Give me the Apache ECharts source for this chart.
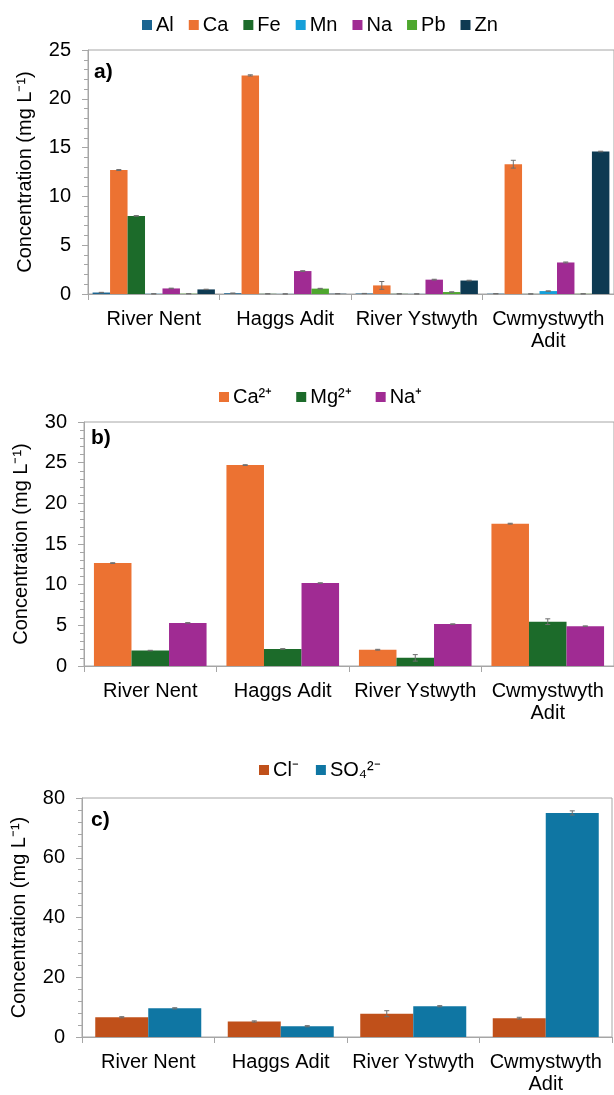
<!DOCTYPE html>
<html>
<head>
<meta charset="utf-8">
<script src="https://cdn.jsdelivr.net/npm/echarts@6/dist/echarts.min.js"></script>
<style>
html,body{margin:0;padding:0;background:#fff;}
#chart{width:614px;height:1095px;}
</style>
</head>
<body>
<div id="chart"></div>
<script>
// ---------- data ----------
const categories = ['River Nent', 'Haggs Adit', 'River Ystwyth', 'Cwmystwyth\nAdit'];

// Panel a) metals
const metalNames = ['Al', 'Ca', 'Fe', 'Mn', 'Na', 'Pb', 'Zn'];
const metalAl = [0.15, 0.08, 0.05, 0.03];
const metalCa = [12.7, 22.4, 0.88, 13.3];
const metalFe = [8.0, 0.02, 0.02, 0.01];
const metalMn = [0.02, 0.01, 0.01, 0.3];
const metalNa = [0.57, 2.35, 1.47, 3.23];
const metalPb = [0.03, 0.55, 0.2, 0.02];
const metalZn = [0.47, 0.03, 1.38, 14.6];
const errAl = [0.02, 0.01, 0.01, 0.01];
const errCa = [0.05, 0.06, 0.4, 0.4];
const errFe = [0.03, 0.01, 0.01, 0.01];
const errMn = [0.01, 0.01, 0.01, 0.02];
const errNa = [0.03, 0.04, 0.04, 0.05];
const errPb = [0.01, 0.03, 0.02, 0.01];
const errZn = [0.02, 0.01, 0.03, 0.03];

// Panel b) cations
const cationNames = ['Ca²⁺', 'Mg²⁺', 'Na⁺'];
const cationCa = [12.65, 24.7, 2.0, 17.5];
const cationMg = [1.9, 2.1, 1.0, 5.45];
const cationNa = [5.3, 10.2, 5.15, 4.9];
const errCationCa = [0.05, 0.05, 0.05, 0.05];
const errCationMg = [0.03, 0.03, 0.4, 0.35];
const errCationNa = [0.03, 0.03, 0.03, 0.03];

// Panel c) anions
const anionNames = ['Cl⁻', 'SO₄²⁻'];
const anionCl = [6.6, 5.2, 7.8, 6.3];
const anionSO4 = [9.6, 3.6, 10.3, 75.0];
const errAnionCl = [0.2, 0.2, 1.0, 0.3];
const errAnionSO4 = [0.2, 0.2, 0.2, 0.7];

// ticks
const yTicksA = {min: 0, max: 25, interval: 5};
const yTicksB = {min: 0, max: 30, interval: 5};
const yTicksC = {min: 0, max: 80, interval: 20};

// ---------- styling ----------
const FONT = '"Liberation Sans", Arial, sans-serif';
const AXIS_GRAY = '#A6A6A6';
const colorsA = ['#1B6591', '#EC7232', '#1C6B2A', '#159FD9', '#A02B93', '#4EA72E', '#0E3A52'];
const colorsB = ['#EC7232', '#1C6B2A', '#A02B93'];
const colorsC = ['#C0501A', '#0F76A3'];

const panels = [
  {names: metalNames, values: [metalAl, metalCa, metalFe, metalMn, metalNa, metalPb, metalZn],
   errs: [errAl, errCa, errFe, errMn, errNa, errPb, errZn], colors: colorsA, gap: 0.07, ticks: yTicksA,
   grid: {left: 88, top: 50, width: 528, height: 244}, legend: {left: 137, top: 10, itemGap: 15}},
  {names: cationNames, values: [cationCa, cationMg, cationNa],
   errs: [errCationCa, errCationMg, errCationNa], colors: colorsB, gap: 0.15, ticks: yTicksB,
   grid: {left: 84, top: 422, width: 532, height: 244}, legend: {left: 214, top: 382, itemGap: 24}},
  {names: anionNames, values: [anionCl, anionSO4],
   errs: [errAnionCl, errAnionSO4], colors: colorsC, gap: 0.20, ticks: yTicksC,
   grid: {left: 82, top: 798, width: 530, height: 242}, legend: {left: 254, top: 755, itemGap: 17}}
];

const grids = [], xAxes = [], yAxes = [], legends = [], series = [];

panels.forEach((p, pi) => {
  grids.push(Object.assign({show: true, borderColor: AXIS_GRAY, borderWidth: 1, backgroundColor: 'transparent'}, p.grid));
  xAxes.push({
    type: 'category', gridIndex: pi, data: categories,
    axisLine: {show: true, lineStyle: {color: AXIS_GRAY, width: 1}},
    axisTick: {show: true, interval: 0, length: 6, lineStyle: {color: AXIS_GRAY}},
    axisLabel: {interval: 0, color: '#000', fontFamily: FONT, fontSize: 20, margin: 14, lineHeight: 22},
    splitLine: {show: false}
  });
  yAxes.push({
    type: 'value', gridIndex: pi, min: p.ticks.min, max: p.ticks.max, interval: p.ticks.interval,
    name: 'Concentration (mg L⁻¹)', nameLocation: 'middle', nameRotate: 90, nameGap: 53,
    nameTextStyle: {color: '#000', fontFamily: FONT, fontSize: 20},
    axisLine: {show: true, lineStyle: {color: AXIS_GRAY, width: 1}},
    axisTick: {show: true, length: 6, lineStyle: {color: AXIS_GRAY}},
    minorTick: {show: true, splitNumber: 5, length: 4, lineStyle: {color: AXIS_GRAY}},
    axisLabel: {color: '#000', fontFamily: FONT, fontSize: 20, margin: 17},
    splitLine: {show: false}
  });
  legends.push({
    data: p.names.map((n, i) => ({name: n, itemStyle: {color: p.colors[i]}})),
    left: p.legend.left, top: p.legend.top, orient: 'horizontal',
    itemWidth: 10, itemHeight: 10, itemGap: p.legend.itemGap, icon: 'rect',
    selectedMode: false,
    textStyle: {color: '#000', fontFamily: FONT, fontSize: 20, padding: [0, 0, 0, -1]}
  });
  const n = p.names.length;
  p.names.forEach((name, si) => {
    series.push({
      type: 'bar', name: name, xAxisIndex: pi, yAxisIndex: pi,
      data: p.values[si], barGap: '0%', barCategoryGap: (p.gap * 100) + '%',
      itemStyle: {color: p.colors[si]}, animation: false
    });
  });
  p.names.forEach((name, si) => {
    const gap = p.gap;
    series.push({
      type: 'custom', name: 'err' + pi + '_' + si, xAxisIndex: pi, yAxisIndex: pi,
      data: categories.map((c, ci) => [ci, p.values[si][ci], p.errs[si][ci]]),
      z: 5, animation: false, silent: true,
      renderItem: function (params, api) {
        const ci = api.value(0), v = api.value(1), e = api.value(2);
        const base = api.coord([ci, v]);
        const band = api.size([1, 0])[0];
        const used = band * (1 - gap);
        const bw = used / n;
        const cx = base[0] - used / 2 + bw * (si + 0.5);
        const yT = api.coord([ci, v + e])[1];
        const yB = api.coord([ci, Math.max(0, v - e)])[1];
        const cap = 2.5;
        const st = {stroke: '#6E6E6E', lineWidth: 1};
        return {type: 'group', children: [
          {type: 'line', shape: {x1: cx, y1: yT, x2: cx, y2: yB}, style: st},
          {type: 'line', shape: {x1: cx - cap, y1: yT, x2: cx + cap, y2: yT}, style: st},
          {type: 'line', shape: {x1: cx - cap, y1: yB, x2: cx + cap, y2: yB}, style: st}
        ]};
      }
    });
  });
});

const panelLabels = [['a)', 94, 62], ['b)', 91, 428], ['c)', 91, 810]];

const chart = echarts.init(document.getElementById('chart'), null, {renderer: 'canvas'});
chart.setOption({
  backgroundColor: '#fff',
  animation: false,
  grid: grids, xAxis: xAxes, yAxis: yAxes, legend: legends, series: series,
  graphic: panelLabels.map(l => ({
    type: 'text', left: l[1], top: l[2], z: 10,
    style: {text: l[0], font: 'bold 21px ' + FONT, fill: '#000'}
  }))
});
</script>
</body>
</html>
